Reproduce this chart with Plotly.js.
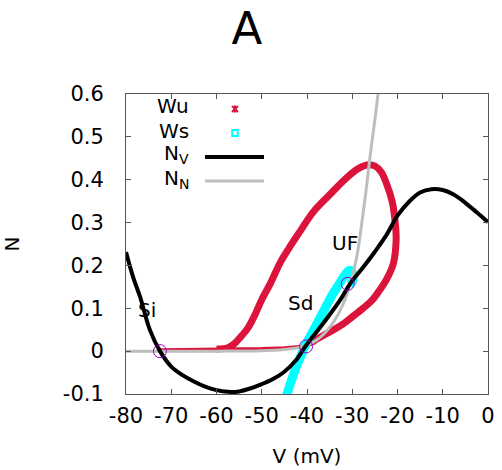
<!DOCTYPE html>
<html><head><meta charset="utf-8">
<script src="https://cdn.plot.ly/plotly-3.0.1.min.js"></script>
<style>body{margin:0;padding:0;background:#fff}#chart{width:502px;height:470px}</style>
</head><body><div id="chart"></div>
<script>
// N_V nullcline (black)
const nvV = [-80, -78.5, -76.9, -74.7, -72.5, -70, -67.5, -65, -62.5, -60, -57.5, -55, -52.5, -50, -47.5, -45, -42.5, -40.3, -37.5, -35, -32.5, -30.5, -27.5, -25, -22.5, -20, -17.5, -15, -12.5, -10, -7.5, -5, -2.5, 0];
const nvN = [0.231, 0.175, 0.127, 0.049, 0.0, -0.036, -0.056, -0.071, -0.083, -0.091, -0.095, -0.094, -0.087, -0.077, -0.065, -0.048, -0.022, 0.012, 0.05, 0.085, 0.122, 0.157, 0.197, 0.232, 0.27, 0.316, 0.348, 0.37, 0.378, 0.376, 0.365, 0.346, 0.324, 0.301];
// N_N nullcline (grey)
const nnV = [-80, -70, -60, -50, -45, -42, -40, -38, -36, -34, -32, -30.5, -29, -28, -27, -26, -25, -24.3, -23.8];
const nnN = [0.0, 0.0, 0.0, 0.001, 0.004, 0.008, 0.014, 0.025, 0.043, 0.07, 0.11, 0.155, 0.22, 0.29, 0.37, 0.46, 0.54, 0.6, 0.64];
// Wu: unstable manifold, thin part from Si to Sd
const wuThinV = [-72.5, -65, -60, -57, -50, -45, -40.3, -38];
const wuThinN = [0.003, 0.004, 0.004, 0.005, 0.006, 0.008, 0.012, 0.02];
// Wu: unstable manifold, loop
const wuV = [-60, -57.5, -56, -54.5, -53, -51.5, -50, -48, -46, -44, -41.5, -38.6, -35, -31.2, -28.5, -26.5, -25, -23.6, -22.4, -21.2, -20.5, -20.3, -20.9, -22.3, -23.9, -25.5, -27.6, -30, -32.5, -35, -37.5, -40.3];
const wuN = [0.005, 0.008, 0.018, 0.035, 0.055, 0.085, 0.12, 0.16, 0.205, 0.24, 0.28, 0.325, 0.365, 0.405, 0.427, 0.435, 0.432, 0.418, 0.39, 0.35, 0.3, 0.26, 0.205, 0.17, 0.143, 0.12, 0.1, 0.08, 0.06, 0.045, 0.03, 0.015];
// Ws: stable manifold (cyan)
const wsV = [-44.7, -43.5, -42.3, -41.3, -40.3, -39, -37.5, -36, -34.5, -33, -31.7, -30.8, -30.2, -29.8, -30.0, -30.6];
const wsN = [-0.11, -0.07, -0.035, -0.01, 0.015, 0.04, 0.07, 0.1, 0.13, 0.155, 0.176, 0.188, 0.187, 0.175, 0.162, 0.155];
// fixed points
const fpV = [-72.5, -40.2, -31.0];
const fpN = [0.0, 0.011, 0.157];
const fpLabels = ['Si', 'Sd', 'UF'];
const fpLabelV = [-75.4, -41.5, -31.6];
const fpLabelN = [0.096, 0.112, 0.252];
const legendLabels = ['Wu', 'Ws', 'N<sub>V</sub>', 'N<sub>N</sub>'];
const xTicks = [-80, -70, -60, -50, -40, -30, -20, -10, 0];
const yTicks = [-0.1, 0, 0.1, 0.2, 0.3, 0.4, 0.5, 0.6];

const RED = '#DC143C', CYAN = '#00FFFF', GREY = '#BEBEBE', PURPLE = '#9400D3';
const F = 'DejaVu Sans, sans-serif';

const traces = [
  {x: wuThinV, y: wuThinN, mode: 'lines', line: {color: RED, width: 3}},
  {x: wuV, y: wuN, mode: 'lines', line: {color: RED, width: 7, shape: 'spline'}},
  {x: wsV, y: wsN, mode: 'lines', line: {color: CYAN, width: 9, shape: 'spline'}},
  {x: nnV, y: nnN, mode: 'lines', line: {color: GREY, width: 3, shape: 'spline'}},
  {x: nvV, y: nvN, mode: 'lines', line: {color: '#000', width: 4, shape: 'spline'}},
  {x: fpV, y: fpN, mode: 'markers', marker: {symbol: 'circle-open', size: 13, color: PURPLE, line: {width: 1, color: PURPLE}}}
];

const annotations = fpLabels.map((t, i) => ({
  x: fpLabelV[i], y: fpLabelN[i], xref: 'x', yref: 'y', text: t, showarrow: false,
  font: {family: F, size: 20, color: '#000'}
}));
const legY = [0.96, 0.878, 0.8, 0.718];
legendLabels.forEach((t, i) => annotations.push({
  x: 0.18, y: legY[i], xref: 'paper', yref: 'paper', xanchor: 'right', yanchor: 'middle',
  text: t, showarrow: false, font: {family: F, size: 20, color: '#000'}
}));

// legend key samples (paper coordinates)
const shapes = [
  {type: 'line', xref: 'paper', yref: 'paper', x0: 0.2928, x1: 0.3094, y0: 0.94, y1: 0.96, line: {color: RED, width: 2}},
  {type: 'line', xref: 'paper', yref: 'paper', x0: 0.2928, x1: 0.3094, y0: 0.96, y1: 0.94, line: {color: RED, width: 2}},
  {type: 'line', xref: 'paper', yref: 'paper', x0: 0.3011, x1: 0.3011, y0: 0.938, y1: 0.962, line: {color: RED, width: 2}},
  {type: 'rect', xref: 'paper', yref: 'paper', x0: 0.2935, x1: 0.3087, y0: 0.86, y1: 0.88, line: {color: CYAN, width: 2}},
  {type: 'line', xref: 'paper', yref: 'paper', x0: 0.2182, x1: 0.3812, y0: 0.79, y1: 0.79, line: {color: '#000', width: 4}},
  {type: 'line', xref: 'paper', yref: 'paper', x0: 0.2182, x1: 0.3812, y0: 0.71, y1: 0.71, line: {color: GREY, width: 3}}
];

const axisCommon = {
  showgrid: false, zeroline: false, showline: true, linecolor: '#555', linewidth: 1,
  mirror: 'ticks', ticks: 'inside', ticklen: 5, tickcolor: '#555',
  tickfont: {family: F, size: 21, color: '#000'}
};

const layout = {
  width: 502, height: 470,
  margin: {l: 126, r: 14, t: 94, b: 76},
  paper_bgcolor: '#fff', plot_bgcolor: '#fff',
  showlegend: false,
  title: {text: 'A', font: {family: F, size: 45, color: '#000'}, x: 0.492, xanchor: 'center', y: 0.94, yanchor: 'middle'},
  xaxis: Object.assign({}, axisCommon, {range: [-80, 0], tickvals: xTicks, ticktext: xTicks.map(String), ticklabelstandoff: 3,
    title: {text: 'V (mV)', font: {family: F, size: 20, color: '#000'}, standoff: 21}}),
  yaxis: Object.assign({}, axisCommon, {range: [-0.1, 0.6], tickvals: yTicks, ticktext: yTicks.map(String), ticklabelstandoff: 17,
    title: {text: 'N', font: {family: F, size: 20, color: '#000'}, standoff: 42}}),
  annotations: annotations,
  shapes: shapes
};

Plotly.newPlot('chart', traces, layout, {displayModeBar: false, staticPlot: true});
</script></body></html>
